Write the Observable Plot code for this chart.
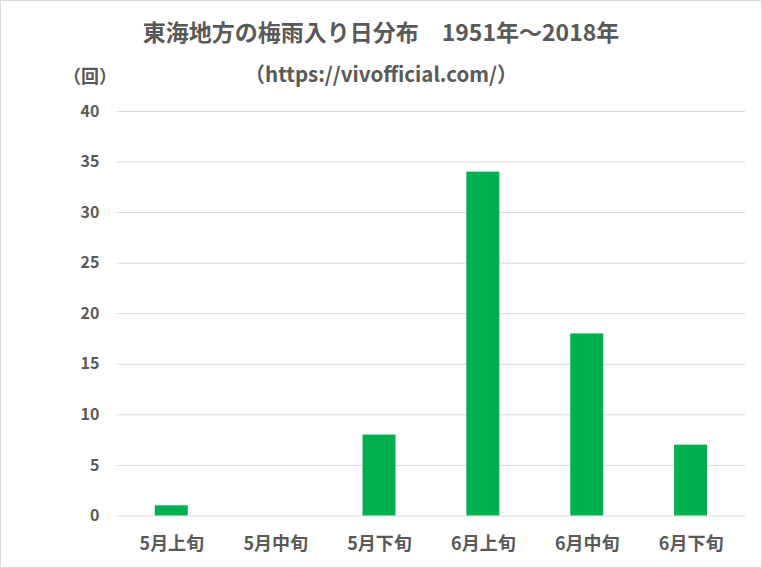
<!DOCTYPE html>
<html><head><meta charset="utf-8">
<script src="https://cdn.jsdelivr.net/npm/d3@7"></script>
<script src="https://cdn.jsdelivr.net/npm/@observablehq/plot@0.6"></script>
<style>
html,body{margin:0;padding:0;background:#fff;}
#wrap{position:relative;width:760px;height:566px;border:1px solid #d9d9d9;background:#fff;overflow:hidden;font-family:"Noto Sans CJK JP","Noto Sans",sans-serif;color:#595959;}
#title{position:absolute;top:14px;left:0;width:760px;text-align:center;font-size:23px;font-weight:bold;line-height:32px;}
#sub{position:absolute;top:57px;left:0;width:760px;text-align:center;font-size:20.5px;font-weight:bold;line-height:30px;}
#unit{position:absolute;top:59px;left:62px;font-size:18px;font-weight:bold;line-height:30px;}
#chart{position:absolute;top:94px;left:-1px;}
</style></head>
<body>
<div id="wrap">
<div id="title">東海地方の梅雨入り日分布　1951年～2018年</div>
<div id="sub">（https://vivofficial.com/）</div>
<div id="unit">（回）</div>
<div id="chart"></div>
</div>
<script>
const categories = ["5月上旬","5月中旬","5月下旬","6月上旬","6月中旬","6月下旬"];
const counts = [1, 0, 8, 34, 18, 7];
const yTicks = [0,5,10,15,20,25,30,35,40];

const data = categories.map((c,i)=>({cat:c, n:counts[i]}));

const chart = Plot.plot({
  width: 762,
  height: 472,
  marginLeft: 117,
  marginRight: 16,
  marginTop: 16,
  marginBottom: 51,
  style: {fontFamily: '"Noto Sans CJK JP","Noto Sans",sans-serif', color: "#595959", background: "transparent"},
  x: {domain: categories, paddingInner: 0.686, paddingOuter: 0.343, label: null},
  y: {domain: [0,40], ticks: yTicks, label: null},
  marks: [
    Plot.gridY(yTicks, {stroke: "#d9d9d9", strokeOpacity: 1, strokeWidth: 1}),
    Plot.barY(data, {x: "cat", y: "n", fill: "#00b050"}),
    Plot.axisY({ticks: yTicks, tickSize: 0, tickPadding: 18, fontSize: 16, fontWeight: "bold", fill: "#595959", label: null}),
    Plot.axisX({tickSize: 0, tickPadding: 21, fontSize: 18, fontWeight: "bold", fill: "#595959", label: null})
  ]
});
document.getElementById("chart").appendChild(chart);
</script>
</body></html>
